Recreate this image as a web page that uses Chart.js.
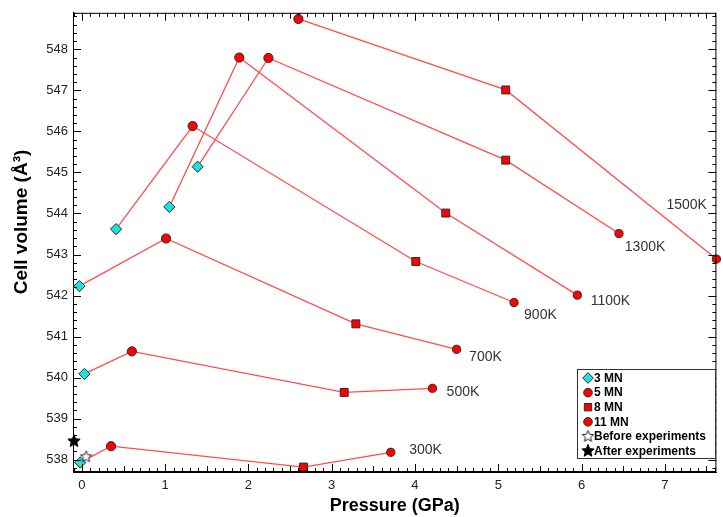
<!DOCTYPE html>
<html>
<head>
<meta charset="utf-8">
<script src="https://cdn.jsdelivr.net/npm/chart.js@4.4.1/dist/chart.umd.min.js"></script>
<style>
  body { margin: 0; background: #fff; }
  canvas { display: block; }
</style>
</head>
<body>
<canvas id="chart" width="723" height="517"></canvas>
<script>
// temperatures (one line each), load types (one marker each)
const temps = ["300K", "500K", "700K", "900K", "1100K", "1300K", "1500K"];
const loads = ["3 MN", "5 MN", "8 MN", "11 MN"];

// pressure (GPa) and cell volume (Å³) per load, in the order of temps
const p3MN = [-0.02, 0.03, -0.03, 0.41, 1.05, 1.39, null];
const v3MN = [537.93, 540.09, 542.23, 543.62, 544.16, 545.14, null];
const p5MN = [0.35, 0.60, 1.01, 1.33, 1.89, 2.24, 2.60];
const v5MN = [538.33, 540.64, 543.39, 546.13, 547.80, 547.79, 548.74];
const p8MN = [2.66, 3.15, 3.29, 4.01, 4.37, 5.09, 5.09];
const v8MN = [537.82, 539.64, 541.31, 542.83, 544.01, 545.30, 547.01];
const p11MN = [3.71, 4.21, 4.50, 5.19, 5.95, 6.45, 7.62];
const v11MN = [538.18, 539.74, 540.69, 541.83, 542.01, 543.51, 542.89];

// reference measurements
const pBefore = [0.05];
const vBefore = [538.07];
const pAfter = [-0.095];
const vAfter = [538.45];

// where each temperature label sits (data units)
const labelP = [3.93, 4.38, 4.65, 5.31, 6.11, 6.52, 7.02];
const labelV = [538.23, 539.64, 540.51, 541.53, 541.87, 543.17, 544.21];

const xTicks = [0, 1, 2, 3, 4, 5, 6, 7];
const yTicks = [538, 539, 540, 541, 542, 543, 544, 545, 546, 547, 548];

const FONT = "'Liberation Sans', Arial, Helvetica, sans-serif";
const LINE_RED = "#ff4c4c";
const RED = "#ff0000";
const CYAN = "#19e3e3";
const EDGE = "#2a2a2a";

function makeStar(fill, stroke, r) {
  const c = document.createElement("canvas");
  const s = Math.ceil(r * 2 + 3);
  c.width = s; c.height = s;
  const g = c.getContext("2d");
  g.beginPath();
  for (let i = 0; i < 10; i++) {
    const rr = i % 2 === 0 ? r : r * 0.45;
    const a = -Math.PI / 2 + i * Math.PI / 5;
    const px = s / 2 + rr * Math.cos(a);
    const py = s / 2 + rr * Math.sin(a);
    if (i === 0) g.moveTo(px, py); else g.lineTo(px, py);
  }
  g.closePath();
  g.fillStyle = fill;
  g.fill();
  g.lineWidth = 1;
  g.strokeStyle = stroke;
  g.stroke();
  return c;
}
const starOpen = makeStar("#fff", "#222", 6);
const starFull = makeStar("#000", "#000", 6.5);

const loadP = [p3MN, p5MN, p8MN, p11MN];
const loadV = [v3MN, v5MN, v8MN, v11MN];
const loadStyle = [
  { pointStyle: "rectRot", radius: 5.6, color: CYAN },
  { pointStyle: "circle", radius: 4.6, color: RED },
  { pointStyle: "rect", radius: 5.6, color: RED },
  { pointStyle: "circle", radius: 4.1, color: RED }
];

const datasets = [];

// one red line per temperature
temps.forEach((t, i) => {
  const pts = [];
  loadP.forEach((arr, j) => {
    if (arr[i] !== null) pts.push({ x: arr[i], y: loadV[j][i] });
  });
  datasets.push({
    label: t,
    data: pts,
    showLine: true,
    borderColor: LINE_RED,
    borderWidth: 1.3,
    pointRadius: 0,
    order: 2,
    clip: false
  });
});

// markers per load
loads.forEach((name, j) => {
  const pts = [];
  loadP[j].forEach((p, i) => {
    if (p !== null) pts.push({ x: p, y: loadV[j][i] });
  });
  datasets.push({
    label: name,
    data: pts,
    showLine: false,
    pointStyle: loadStyle[j].pointStyle,
    pointRadius: loadStyle[j].radius,
    backgroundColor: loadStyle[j].color,
    borderColor: EDGE,
    borderWidth: 1,
    order: 1,
    clip: false
  });
});

datasets.push({
  label: "Before experiments",
  data: pBefore.map((p, i) => ({ x: p, y: vBefore[i] })),
  showLine: false,
  pointStyle: starOpen,
  order: 0,
  clip: false
});
datasets.push({
  label: "After experiments",
  data: pAfter.map((p, i) => ({ x: p, y: vAfter[i] })),
  showLine: false,
  pointStyle: starFull,
  order: 0,
  clip: false
});

// frame + inside ticks on all four sides
const framePlugin = {
  id: "frame",
  afterDraw(chart) {
    const ctx = chart.ctx;
    const a = chart.chartArea;
    const xs = chart.scales.x;
    const ys = chart.scales.y;
    ctx.save();
    ctx.strokeStyle = "#000";
    ctx.lineWidth = 1;
    ctx.strokeRect(a.left + 0.5, a.top + 0.5, a.right - a.left - 1, a.bottom - a.top - 1);
    ctx.beginPath();
    for (let k = Math.ceil(xs.min * 10); k <= Math.floor(xs.max * 10); k++) {
      const len = k % 10 === 0 ? 8 : (k % 5 === 0 ? 6 : 4);
      const px = Math.round(xs.getPixelForValue(k / 10)) + 0.5;
      ctx.moveTo(px, a.bottom); ctx.lineTo(px, a.bottom - len);
      ctx.moveTo(px, a.top); ctx.lineTo(px, a.top + len);
    }
    for (let k = Math.ceil(ys.min * 5); k <= Math.floor(ys.max * 5); k++) {
      const len = k % 5 === 0 ? 8 : 4;
      const py = Math.round(ys.getPixelForValue(k / 5)) + 0.5;
      ctx.moveTo(a.left, py); ctx.lineTo(a.left + len, py);
      ctx.moveTo(a.right, py); ctx.lineTo(a.right - len, py);
    }
    ctx.stroke();

    // y axis title
    ctx.translate(22, 222);
    ctx.rotate(-Math.PI / 2);
    ctx.font = "bold 19px " + FONT;
    ctx.fillStyle = "#000";
    ctx.textAlign = "center";
    ctx.textBaseline = "middle";
    ctx.fillText("Cell volume (Å³)", 0, 0);
    ctx.restore();
  }
};

// temperature labels next to the lines
const tempLabels = {
  id: "tempLabels",
  afterDatasetsDraw(chart) {
    const ctx = chart.ctx;
    const xs = chart.scales.x;
    const ys = chart.scales.y;
    ctx.save();
    ctx.font = "14px " + FONT;
    ctx.fillStyle = "#333";
    ctx.textAlign = "left";
    ctx.textBaseline = "middle";
    temps.forEach((t, i) => {
      ctx.fillText(t, xs.getPixelForValue(labelP[i]), ys.getPixelForValue(labelV[i]));
    });
    ctx.restore();
  }
};

// boxed legend in the lower right corner
const boxLegend = {
  id: "boxLegend",
  afterDraw(chart) {
    const ctx = chart.ctx;
    const items = [
      { text: "3 MN", style: "rectRot", r: 5.3, fill: CYAN },
      { text: "5 MN", style: "circle", r: 4.3, fill: RED },
      { text: "8 MN", style: "rect", r: 5.2, fill: RED },
      { text: "11 MN", style: "circle", r: 4.3, fill: RED },
      { text: "Before experiments", style: starOpen },
      { text: "After experiments", style: starFull }
    ];
    ctx.save();
    ctx.fillStyle = "#fff";
    ctx.fillRect(577, 369, 138, 89);
    ctx.strokeStyle = "#333";
    ctx.lineWidth = 1;
    ctx.strokeRect(577.5, 369.5, 138, 89);
    ctx.font = "bold 12px " + FONT;
    ctx.textAlign = "left";
    ctx.textBaseline = "middle";
    items.forEach((it, i) => {
      const y = 378 + i * 14.6;
      ctx.fillStyle = it.fill || "#000";
      ctx.strokeStyle = EDGE;
      ctx.lineWidth = 1;
      Chart.helpers.drawPoint(ctx, { pointStyle: it.style, radius: it.r || 6, borderWidth: 1, rotation: 0 }, 588, y);
      ctx.fillStyle = "#000";
      ctx.fillText(it.text, 594, y + 0.5);
    });
    ctx.restore();
  }
};

new Chart(document.getElementById("chart"), {
  type: "scatter",
  data: { datasets: datasets },
  options: {
    responsive: false,
    animation: false,
    layout: { padding: { top: 12, right: 1, left: 0, bottom: 0 } },
    plugins: {
      legend: { display: false },
      tooltip: { enabled: false }
    },
    scales: {
      x: {
        type: "linear",
        min: -0.107,
        max: 7.62,
        grid: { display: false, drawTicks: false },
        border: { display: true, color: "#000", width: 1 },
        afterBuildTicks: s => { s.ticks = xTicks.map(v => ({ value: v })); },
        afterFit: s => { s.height = 45; },
        ticks: { padding: 6, color: "#222", font: { family: FONT, size: 13 } },
        title: {
          display: true,
          text: "Pressure (GPa)",
          color: "#000",
          font: { family: FONT, size: 18, weight: "bold" },
          padding: { top: 0, bottom: 0 }
        }
      },
      y: {
        type: "linear",
        min: 537.7,
        max: 548.89,
        grid: { display: false, drawTicks: false },
        border: { display: true, color: "#000", width: 1 },
        afterBuildTicks: s => { s.ticks = yTicks.map(v => ({ value: v })); },
        afterFit: s => { s.width = 73; },
        ticks: { padding: 5, color: "#222", font: { family: FONT, size: 13 } }
      }
    }
  },
  plugins: [tempLabels, framePlugin, boxLegend]
});
</script>
</body>
</html>
